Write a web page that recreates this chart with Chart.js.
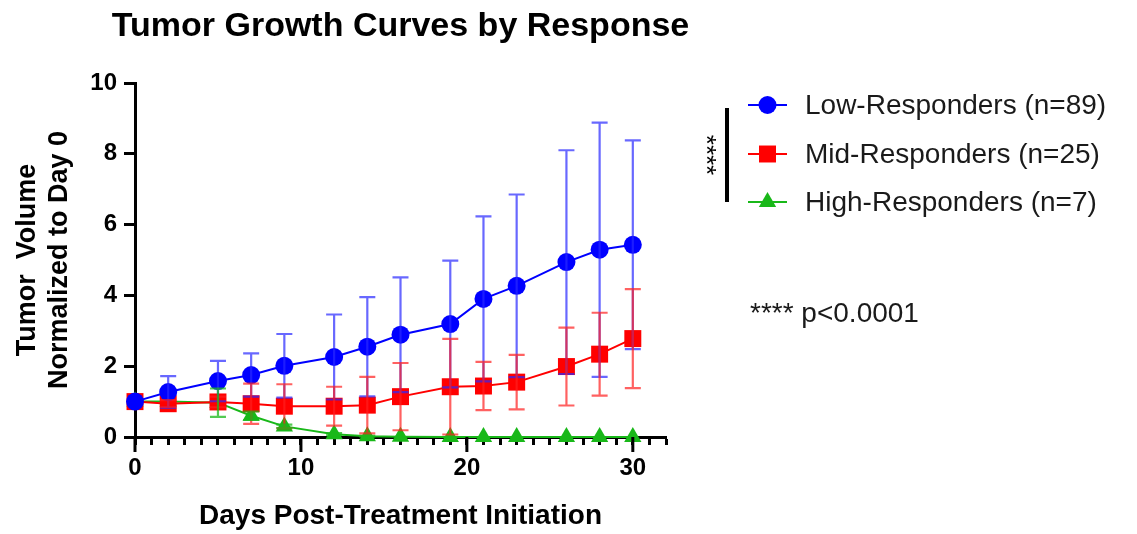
<!DOCTYPE html>
<html>
<head>
<meta charset="utf-8">
<title>Tumor Growth Curves by Response</title>
<script src="https://cdn.jsdelivr.net/npm/chart.js@4.4.1/dist/chart.umd.min.js"></script>
<style>
  html, body { margin: 0; padding: 0; background: #fff; }
  #chart { display: block; }
</style>
</head>
<body>
<canvas id="chart" width="1137" height="534"></canvas>
<script>
// days after treatment start
const days = [0, 2, 5, 7, 9, 12, 14, 16, 19, 21, 23, 26, 28, 30]

// mean normalized volume and SD per group
const lowMean = [1.0, 1.27, 1.58, 1.75, 2.01, 2.26, 2.55, 2.89, 3.19, 3.9, 4.27, 4.94, 5.29, 5.43]
const lowSd = [0, 0.45, 0.57, 0.61, 0.9, 1.2, 1.4, 1.62, 1.79, 2.33, 2.58, 3.16, 3.59, 2.95]
const midMean = [1.0, 0.94, 0.99, 0.94, 0.87, 0.87, 0.9, 1.14, 1.42, 1.44, 1.55, 1.99, 2.34, 2.78]
const midSd = [0, 0.1, 0.15, 0.57, 0.62, 0.55, 0.8, 0.95, 1.35, 0.68, 0.77, 1.1, 1.17, 1.4]
const highMean = [1.0, 1.0, 0.97, 0.6, 0.3, 0.08, 0.02, 0.01, 0, 0, 0, 0, 0, 0]
const highSd = [0, 0, 0.4, 0.12, 0.05, 0.03, 0.01, 0, 0, 0, 0, 0, 0, 0]

const groupLabels = ['Low-Responders (n=89)', 'Mid-Responders (n=25)', 'High-Responders (n=7)']
const yTicks = [0, 2, 4, 6, 8, 10]
const xMajorTicks = [0, 10, 20, 30]

const FONT = '"Liberation Sans", Arial, sans-serif'

const groups = [
  { label: groupLabels[0], mean: lowMean, sd: lowSd, color: '#0000ff', errColor: 'rgba(40,40,255,0.7)', style: 'circle', radius: 9 },
  { label: groupLabels[1], mean: midMean, sd: midSd, color: '#ff0000', errColor: 'rgba(255,30,30,0.7)', style: 'rect', radius: 12 },
  { label: groupLabels[2], mean: highMean, sd: highSd, color: '#19b819', errColor: 'rgba(25,184,25,0.75)', style: 'triangle', radius: 10 }
]

// draws a marker like the chart's points (used in legend)
function drawMarker(ctx, style, x, y, r, color) {
  ctx.save()
  ctx.fillStyle = color
  ctx.beginPath()
  if (style === 'circle') {
    ctx.arc(x, y, r, 0, Math.PI * 2)
  } else if (style === 'rect') {
    const s = Math.SQRT1_2 * r
    ctx.rect(x - s, y - s, 2 * s, 2 * s)
  } else {
    ctx.moveTo(x, y - r)
    ctx.lineTo(x + r * Math.sin(Math.PI * 2 / 3), y - r * Math.cos(Math.PI * 2 / 3))
    ctx.lineTo(x + r * Math.sin(Math.PI * 4 / 3), y - r * Math.cos(Math.PI * 4 / 3))
    ctx.closePath()
  }
  ctx.fill()
  ctx.restore()
}

// SD error bars with caps
const errorBars = {
  id: 'errorBars',
  afterDatasetsDraw(chart) {
    const { ctx, scales } = chart
    const x = scales.x
    const y = scales.y
    ctx.save()
    ctx.lineWidth = 2.2
    groups.forEach((g) => {
      ctx.strokeStyle = g.errColor
      days.forEach((d, i) => {
        if (!g.sd[i]) return
        const px = x.getPixelForValue(d)
        const top = y.getPixelForValue(g.mean[i] + g.sd[i])
        const bot = y.getPixelForValue(Math.max(g.mean[i] - g.sd[i], 0))
        ctx.beginPath()
        ctx.moveTo(px, top)
        ctx.lineTo(px, bot)
        ctx.moveTo(px - 8, top)
        ctx.lineTo(px + 8, top)
        ctx.moveTo(px - 8, bot)
        ctx.lineTo(px + 8, bot)
        ctx.stroke()
      })
    })
    ctx.restore()
  }
}

// title, longer major ticks, legend, significance bracket
const decorations = {
  id: 'decorations',
  afterDraw(chart) {
    const { ctx, chartArea, scales } = chart
    ctx.save()

    // title
    ctx.fillStyle = '#000'
    ctx.font = 'bold 34px ' + FONT
    ctx.textAlign = 'center'
    ctx.textBaseline = 'middle'
    ctx.fillText('Tumor Growth Curves by Response', (chartArea.left + chartArea.right) / 2, 27)

    // major x ticks are longer
    ctx.strokeStyle = '#000'
    ctx.lineWidth = 3
    xMajorTicks.forEach((v) => {
      const px = scales.x.getPixelForValue(v)
      ctx.beginPath()
      ctx.moveTo(px, chartArea.bottom)
      ctx.lineTo(px, chartArea.bottom + 15)
      ctx.stroke()
    })

    // legend
    const lx = 748
    const rowY = [105, 154, 202]
    groups.forEach((g, i) => {
      ctx.strokeStyle = g.color
      ctx.lineWidth = 2
      ctx.beginPath()
      ctx.moveTo(lx, rowY[i])
      ctx.lineTo(lx + 39, rowY[i])
      ctx.stroke()
      drawMarker(ctx, g.style, lx + 19.5, rowY[i], g.radius, g.color)
      ctx.fillStyle = '#1a1a1a'
      ctx.font = '28px ' + FONT
      ctx.textAlign = 'left'
      ctx.textBaseline = 'middle'
      ctx.fillText(g.label, 805, rowY[i] + 1)
    })

    // significance bracket
    ctx.strokeStyle = '#000'
    ctx.lineWidth = 4
    ctx.beginPath()
    ctx.moveTo(727, 108)
    ctx.lineTo(727, 202)
    ctx.stroke()
    ctx.save()
    ctx.translate(705, 155)
    ctx.rotate(Math.PI / 2)
    ctx.fillStyle = '#000'
    ctx.font = '26px ' + FONT
    ctx.textAlign = 'center'
    ctx.textBaseline = 'middle'
    ctx.fillText('****', 0, 0)
    ctx.restore()

    // p-value note
    ctx.fillStyle = '#1a1a1a'
    ctx.textAlign = 'left'
    ctx.textBaseline = 'alphabetic'
    ctx.font = '28px ' + FONT
    ctx.fillText('**** p<0.0001', 750, 322)

    ctx.restore()
  }
}

const datasets = groups.map(g => ({
  label: g.label,
  data: days.map((d, i) => ({ x: d, y: g.mean[i] })),
  borderColor: g.color,
  backgroundColor: g.color,
  borderWidth: 2,
  pointStyle: g.style,
  pointRadius: g.radius,
  pointBorderWidth: 0,
  pointBackgroundColor: g.color,
  pointHoverRadius: g.radius,
  tension: 0,
  clip: false
}))

const tickFont = { family: FONT, size: 24, weight: 'bold' }

const ctx = document.getElementById('chart').getContext('2d')
window.tumorChart = new Chart(ctx, {
  type: 'line',
  data: { datasets },
  options: {
    responsive: false,
    animation: false,
    layout: { padding: { top: 83, right: 471, left: 0, bottom: 0 } },
    plugins: {
      legend: { display: false },
      tooltip: { enabled: false },
      title: { display: false }
    },
    scales: {
      x: {
        type: 'linear',
        min: 0,
        max: 32,
        afterFit: (scale) => { scale.height = 97 },
        border: { display: true, color: '#000', width: 3 },
        grid: { display: true, drawOnChartArea: false, drawTicks: true, tickLength: 8, tickWidth: 3, tickColor: '#000' },
        ticks: {
          stepSize: 1,
          autoSkip: false,
          maxRotation: 0,
          padding: 9,
          color: '#000',
          font: tickFont,
          callback: v => (xMajorTicks.includes(v) ? String(v) : '')
        },
        title: {
          display: true,
          text: 'Days Post-Treatment Initiation',
          color: '#000',
          font: { family: FONT, size: 28, weight: 'bold' },
          padding: { top: 0, bottom: 1 }
        }
      },
      y: {
        min: 0,
        max: 10,
        afterFit: (scale) => { scale.width = 135 },
        afterBuildTicks: (scale) => { scale.ticks = yTicks.map(v => ({ value: v })) },
        border: { display: true, color: '#000', width: 3 },
        grid: { display: true, drawOnChartArea: false, drawTicks: true, tickLength: 11, tickWidth: 3, tickColor: '#000' },
        ticks: { padding: 7, color: '#000', font: tickFont },
        title: {
          display: true,
          text: ['Tumor  Volume', 'Normalized to Day 0'],
          color: '#000',
          font: { family: FONT, size: 27, weight: 'bold' },
          padding: { top: 11, bottom: 0 }
        }
      }
    }
  },
  plugins: [errorBars, decorations]
})
</script>
</body>
</html>
